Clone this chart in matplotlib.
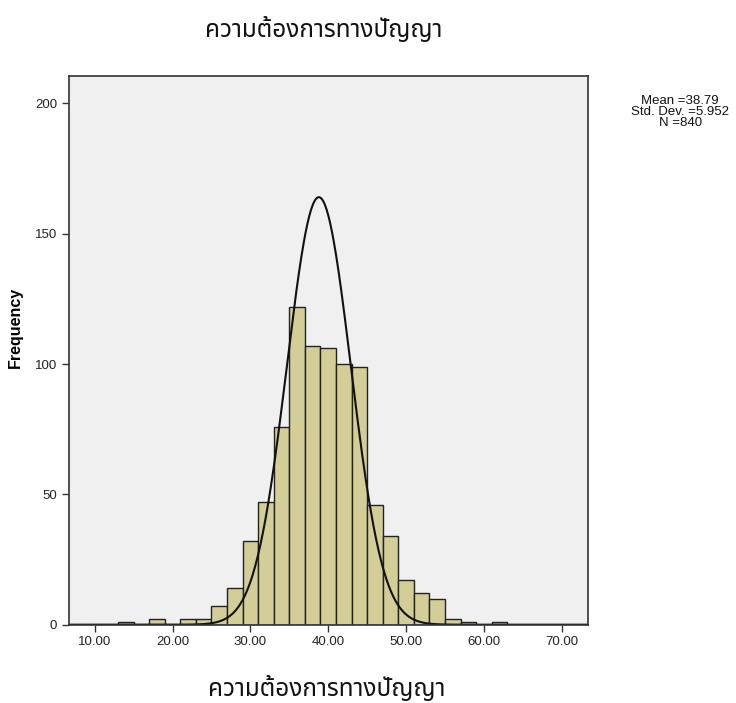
import numpy as np
import matplotlib
matplotlib.use("Agg")
from matplotlib import pyplot as plt
from matplotlib import font_manager
from fontTools.ttLib import TTFont

# histogram counts, bins of width 2 with odd edges
BIN_EDGES = list(range(13, 65, 2))
COUNTS = [1, 0, 2, 0, 2, 2, 7, 14, 32, 47, 76, 122, 107, 106, 100, 99,
          46, 34, 17, 12, 10, 2, 1, 0, 1]
X_TICKS = [10, 20, 30, 40, 50, 60, 70]
Y_TICKS = [0, 50, 100, 150, 200]
TITLE = "ความต้องการทางปัญญา"
STATS = ["Mean =38.79", "Std. Dev. =5.952", "N =840"]

# normal curve as drawn in the picture
CURVE_MEAN = 38.79
CURVE_PEAK = 164
CURVE_SD = 4.1


def find_thai_font():
    preferred = ["Noto Sans Thai", "Noto Sans Thai UI", "Tahoma", "Loma",
                 "Garuda", "Norasi", "Waree", "Sarabun"]
    found = {}
    for f in font_manager.fontManager.ttflist:
        try:
            font = TTFont(f.fname, fontNumber=0, lazy=True)
            cmap = font.getBestCmap()
            if cmap and 0x0E01 in cmap:
                found[f.name] = f.fname
        except Exception:
            pass
    for name in preferred:
        if name in found:
            return name
    if found:
        return sorted(found)[0]
    return "DejaVu Sans"


thai_font = find_thai_font()
plt.rcParams['font.family'] = ['Liberation Sans', 'DejaVu Sans']

fig = plt.figure(figsize=(7.36, 7.03), dpi=100)
ax = fig.add_axes([0.0938, 0.1114, 0.7055, 0.7809])
ax.set_facecolor('#f0f0f0')

edges = np.array(BIN_EDGES)
ax.bar(edges[:-1], COUNTS, width=np.diff(edges), align='edge',
       color='#d3ce97', edgecolor='#222222', linewidth=1.0)

xs = np.linspace(6.7, 73.4, 600)
ys = CURVE_PEAK * np.exp(-0.5 * ((xs - CURVE_MEAN) / CURVE_SD) ** 2)
ax.plot(xs, ys, color='#111111', linewidth=1.5)

ax.set_xlim(6.7, 73.4)
ax.set_ylim(0, 210.6)
ax.set_xticks(X_TICKS)
ax.set_xticklabels(["{:.2f}".format(v) for v in X_TICKS])
ax.set_yticks(Y_TICKS)
ax.tick_params(direction='out', length=5, width=1, colors='#333333',
               labelsize=9.5, labelcolor='#222222')
for s in ax.spines.values():
    s.set_color('#333333')
    s.set_linewidth(1.2)

ax.set_ylabel("Frequency", fontsize=11.5, fontweight='bold')
ax.yaxis.set_label_coords(-0.088, 0.542)

thai = [thai_font, 'DejaVu Sans']
fig.text(0.440, 0.957, TITLE, ha='center', va='center', fontsize=17.5,
         family=thai, color='#111111')
fig.text(0.444, 0.020, TITLE, ha='center', va='center', fontsize=17.5,
         family=thai, color='#111111')

fig.text(0.924, 0.841, "\n".join(STATS), ha='center', va='center',
         fontsize=9.5, linespacing=0.9, color='#111111')

fig.savefig("out.png", dpi=100, facecolor='white')
